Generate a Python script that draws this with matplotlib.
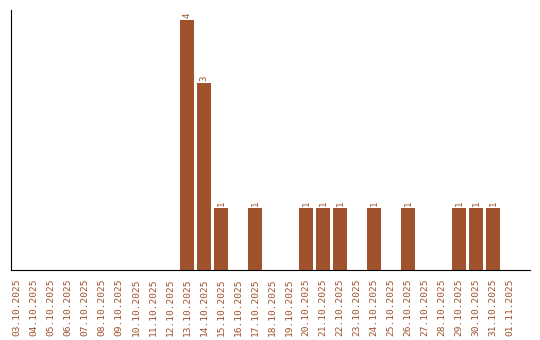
import matplotlib
matplotlib.use("Agg")
import matplotlib.pyplot as plt

dates = ["03.10.2025", "04.10.2025", "05.10.2025", "06.10.2025", "07.10.2025",
         "08.10.2025", "09.10.2025", "10.10.2025", "11.10.2025", "12.10.2025",
         "13.10.2025", "14.10.2025", "15.10.2025", "16.10.2025", "17.10.2025",
         "18.10.2025", "19.10.2025", "20.10.2025", "21.10.2025", "22.10.2025",
         "23.10.2025", "24.10.2025", "25.10.2025", "26.10.2025", "27.10.2025",
         "28.10.2025", "29.10.2025", "30.10.2025", "31.10.2025", "01.11.2025"]
counts = [0, 0, 0, 0, 0, 0, 0, 0, 0, 0,
          4, 3, 1, 0, 1, 0, 0, 1, 1, 1,
          0, 1, 0, 1, 0, 0, 1, 1, 1, 0]

color = "#a0522d"

fig = plt.figure(figsize=(5.4, 3.4), dpi=100)
ax = fig.add_axes([11 / 540, 70 / 340, 519 / 540, 260 / 340])

x = list(range(len(dates)))
ax.bar(x, counts, width=0.8, color=color)
for i, c in enumerate(counts):
    if c > 0:
        ax.text(i, c + 0.03, str(c), rotation=90, ha="center", va="bottom",
                color=color, fontsize=6.5, family="DejaVu Sans Mono")

ax.set_xlim(-0.35, 30.18)
ax.set_ylim(0, 4.16)
ax.set_xticks(x)
ax.set_xticklabels(dates, rotation=90, color=color, fontsize=6.8,
                   family="DejaVu Sans Mono")
ax.tick_params(axis="x", length=0, pad=6)
ax.set_yticks([])
ax.spines["top"].set_visible(False)
ax.spines["right"].set_visible(False)

plt.savefig("out.png", dpi=100)
